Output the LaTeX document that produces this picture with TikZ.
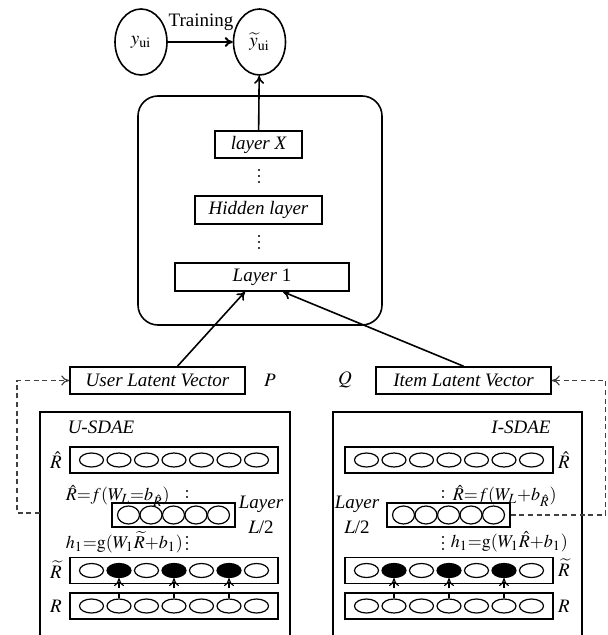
\documentclass[tikz,border=0pt]{standalone}
\usepackage{mathptmx}
\usepackage{fontspec}
\setmainfont{Liberation Serif}
\usetikzlibrary{arrows.meta,positioning,shapes.geometric}

\newcommand{\dotcol}[2]{\foreach \d in {0,1,2} \fill (#1,#2-6+6*\d) circle (1.1);}

\begin{document}
\fontsize{9.5}{11.5}\selectfont
\begin{tikzpicture}[x=0.5pt,y=-0.5pt,line width=0.8pt,
  >={To[length=4pt,width=5pt]},
  box/.style={draw,rectangle,inner sep=0pt,font=\itshape},
  unit/.style={draw,ellipse,inner sep=0pt,line width=0.6pt,minimum width=12pt,minimum height=7pt},
  midunit/.style={draw,ellipse,inner sep=0pt,line width=0.6pt,minimum width=11pt,minimum height=9pt},
  formula/.style={inner sep=0pt,anchor=west,font=\fontsize{9}{11}\selectfont},
  feed/.style={dashed,black!75,line width=0.6pt,dash pattern=on 2.5pt off 1.8pt}]

  \useasboundingbox (0,0) rectangle (608,635);

  % output
  \node[draw,ellipse,minimum width=26pt,minimum height=33pt] (yui) at (141,42) {$y_{\mathrm{ui}}$};
  \node[draw,ellipse,minimum width=26pt,minimum height=33pt] (yhat) at (259.5,42) {$\widetilde{y}_{\mathrm{ui}}$};
  \draw[->,line width=1pt] (yui) -- (yhat);
  \node (train) at (201,22) {Training};

  % prediction network
  \node[draw,rounded corners=10pt,minimum width=122pt,minimum height=114.5pt] (net) at (260,210.5) {};
  \node[box,minimum width=43.5pt,minimum height=13.5pt] (layerX) at (258.5,144.5) {layer X};
  \dotcol{259}{176}
  \node[box,minimum width=63.5pt,minimum height=14pt] (hidden) at (258.5,210) {Hidden layer};
  \dotcol{259}{242}
  \node[box,minimum width=87pt,minimum height=14pt] (layer1) at (262,277) {Layer \upshape 1};
  \draw[->] (layerX) -- (yhat);

  % latent vectors
  \node[box,minimum width=87.5pt,minimum height=13.5pt] (uvec) at (157.5,380.5) {User Latent Vector};
  \node[box,minimum width=87.5pt,minimum height=13.5pt] (ivec) at (463.5,380.5) {Item Latent Vector};
  \node at (270,380) {$P$};
  \node at (345,380) {$Q$};
  \draw[->] ([xshift=10pt]uvec.north) -- ([xshift=-8.5pt]layer1.south);
  \draw[->] (ivec.north) -- ([xshift=10.5pt]layer1.south);

  % SDAE frames
  \draw (40,635) |- (290,412) -- (290,635);
  \draw (333,635) |- (582,412) -- (582,635);
  \node[font=\itshape] at (101,427) {U-SDAE};
  \node[font=\itshape] at (521,427) {I-SDAE};

  \foreach \s/\cx in {u/174,i/449} {
    \node[box,minimum width=104pt,minimum height=13pt] (rhat-\s) at (\cx,460) {};
    \node[box,minimum width=104pt,minimum height=13pt] (rtil-\s) at (\cx,570.5) {};
    \node[box,minimum width=104pt,minimum height=13pt] (r-\s) at (\cx,606) {};
    \node[box,minimum width=61.5pt,minimum height=12pt] (rmid-\s) at (\cx-0.5,515) {};
    \foreach \i/\c in {0/white,1/black,2/white,3/black,4/white,5/black,6/white} {
      \node[unit] (rhat-\s-\i) at (\cx-82.5+27.5*\i,460) {};
      \node[unit,fill=\c] (rtil-\s-\i) at (\cx-82.5+27.5*\i,570.5) {};
      \node[unit] (r-\s-\i) at (\cx-82.5+27.5*\i,606) {};
    }
    \foreach \i in {0,...,4}
      \node[midunit] (rmid-\s-\i) at (\cx-45.5+22.5*\i,515) {};
    \foreach \i in {1,3,5}
      \draw[densely dashed,line width=0.6pt,->] (r-\s-\i.north) -- (rtil-\s-\i.south);
  }

  % left labels
  \node at (56,460) {$\hat{R}$};
  \node at (56,570) {$\widetilde{R}$};
  \node at (56,606) {$R$};
  \node[formula] at (65,496) {$\hat{R}{=}f(W_{L}{=}b_{\hat{R}})$};
  \dotcol{187}{497}
  \node[formula] at (65,542) {$h_1{=}\mathrm{g}(W_1\widetilde{R}{+}b_1)$};
  \dotcol{187}{543}
  \node[align=center,font=\itshape] at (261,515) {Layer\\[1pt]$L$\upshape/2};

  % right labels
  \node at (564,460) {$\hat{R}$};
  \node at (564,568) {$\widetilde{R}$};
  \node at (564,606) {$R$};
  \dotcol{443}{497}
  \node[formula] at (452,496) {$\hat{R}{=}f(W_{L}{+}b_{\hat{R}})$};
  \dotcol{443}{543}
  \node[formula] at (450,542) {$h_1{=}\mathrm{g}(W_1\hat{R}{+}b_1)$};
  \node[align=center,font=\itshape] at (357,515) {Layer\\[1pt]$L$\upshape/2};

  % feedback of latent codes
  \coordinate (usdae-w) at (40,513);
  \draw[feed,->] (usdae-w) -- ++(-23,0) |- (uvec.west);
  \draw[feed,->] (rmid-i.east) -- ++(95,0) |- (ivec.east);
\end{tikzpicture}
\end{document}
